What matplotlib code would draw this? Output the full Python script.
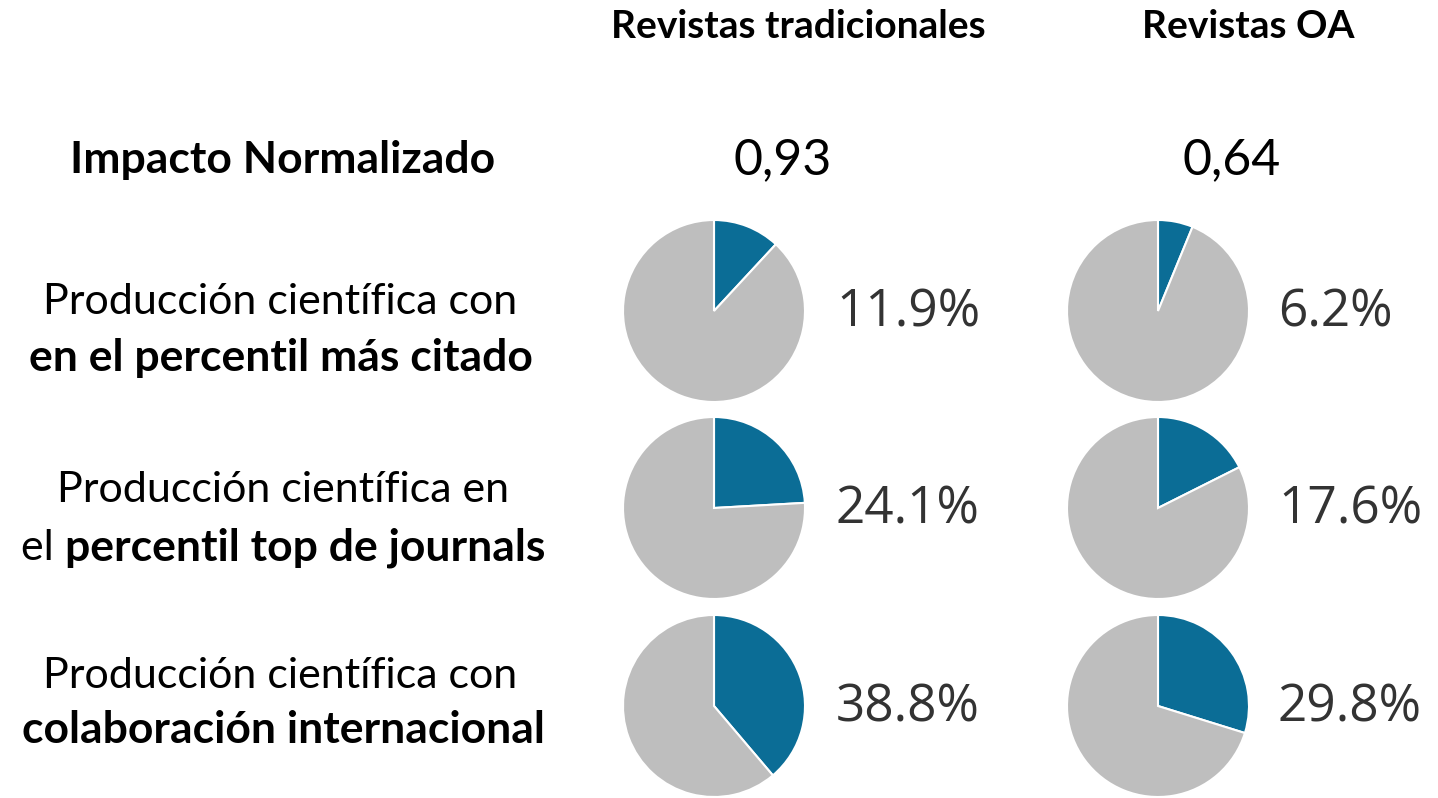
import matplotlib.pyplot as plt

# ---------- Data ----------
columns = ["Revistas tradicionales", "Revistas OA"]
impact = ["0,93", "0,64"]
trad_pct = [11.9, 24.1, 38.8]
oa_pct = [6.2, 17.6, 29.8]

BLUE = "#0b6d96"
GREY = "#bebebe"
LABEL_FONT = ["Lato", "DejaVu Sans"]
PCT_FONT = ["Open Sans", "DejaVu Sans"]

W, H = 1438, 798
fig = plt.figure(figsize=(W / 100, H / 100), dpi=100)
fig.patch.set_facecolor("white")


def px(x, y):
    # pixel coords (origin top-left) -> figure fraction
    return x / W, 1 - y / H


# ---------- Headers ----------
col_x = [798, 1248]
for name, x in zip(columns, col_x):
    fig.text(*px(x, 27), name, ha="center", va="center", fontsize=28,
             fontweight="bold", family=LABEL_FONT)

fig.text(*px(283, 160), "Impacto Normalizado", ha="center", va="center",
         fontsize=32, fontweight="bold", family=LABEL_FONT)
for val, x in zip(impact, [783, 1232]):
    fig.text(*px(x, 160), val, ha="center", va="center", fontsize=36,
             family=LABEL_FONT)

# ---------- Row labels ----------
REG, BOLD = 31, 32
fig.text(*px(280, 302), "Producción científica con", ha="center", va="center",
         fontsize=REG, family=LABEL_FONT)
fig.text(*px(281, 358), "en el percentil más citado", ha="center", va="center",
         fontsize=BOLD, fontweight="bold", family=LABEL_FONT)

fig.text(*px(283, 490), "Producción científica en", ha="center", va="center",
         fontsize=REG, family=LABEL_FONT)
# mixed weight line: "el " regular + bold rest, centred together
r = fig.canvas.get_renderer()
t1 = fig.text(0, 0, "el ", fontsize=REG, family=LABEL_FONT, va="center")
t2 = fig.text(0, 0, "percentil top de journals", fontsize=BOLD, fontweight="bold",
              family=LABEL_FONT, va="center")
w1 = t1.get_window_extent(r).width
w2 = t2.get_window_extent(r).width
x0 = 283 - (w1 + w2) / 2
t1.set_position(px(x0, 548))
t2.set_position(px(x0 + w1, 548))

fig.text(*px(280, 676), "Producción científica con", ha="center", va="center",
         fontsize=REG, family=LABEL_FONT)
fig.text(*px(283, 730), "colaboración internacional", ha="center", va="center",
         fontsize=BOLD, fontweight="bold", family=LABEL_FONT)

# ---------- Pies ----------
pie_cx = [714, 1158]
pie_cy = [311, 508, 706]
radius = 91
pct_x = [836, 1278]

for ci, series in enumerate([trad_pct, oa_pct]):
    for ri, v in enumerate(series):
        cx, cy = pie_cx[ci], pie_cy[ri]
        ax = fig.add_axes([(cx - radius) / W, 1 - (cy + radius) / H,
                           2 * radius / W, 2 * radius / H])
        ax.pie([v, 100 - v], colors=[BLUE, GREY], startangle=90,
               counterclock=False,
               wedgeprops=dict(edgecolor="white", linewidth=1.5))
        ax.set_xlim(-1.0, 1.0)
        ax.set_ylim(-1.0, 1.0)
        ax.set_aspect("equal")
        ax.axis("off")
        fig.text(*px(pct_x[ci], cy + 2), f"{v:.1f}%", ha="left", va="center",
                 fontsize=37, color="#333333", family=PCT_FONT)

fig.savefig("out.png", dpi=100)
